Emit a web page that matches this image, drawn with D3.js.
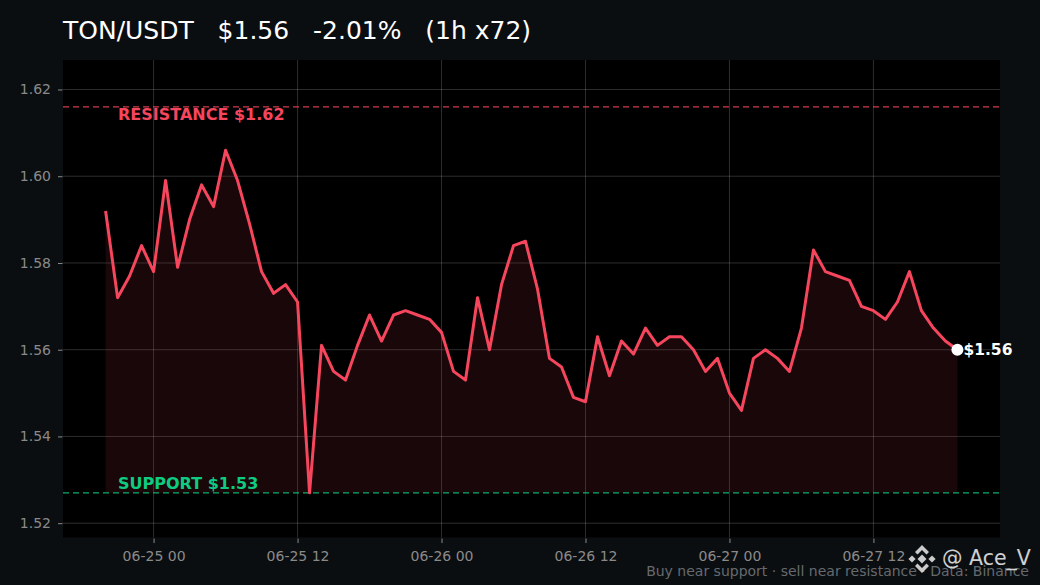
<!DOCTYPE html>
<html>
<head>
<meta charset="utf-8">
<script src="https://cdn.jsdelivr.net/npm/d3@7"></script>
<style>
  html, body { margin: 0; padding: 0; background: #0b0e11; }
  svg { display: block; }
  text { font-family: "DejaVu Sans", sans-serif; }
</style>
</head>
<body>
<svg id="chart" width="1040" height="585"></svg>
<script>
// ---- data ----
const startTime = "2024-06-24T20:00:00";
const prices = [
  1.592, 1.572, 1.577, 1.584, 1.578, 1.599, 1.579, 1.590, 1.598, 1.593,
  1.606, 1.599, 1.589, 1.578, 1.573, 1.575, 1.571, 1.527, 1.561, 1.555,
  1.553, 1.561, 1.568, 1.562, 1.568, 1.569, 1.568, 1.567, 1.564, 1.555,
  1.553, 1.572, 1.560, 1.575, 1.584, 1.585, 1.574, 1.558, 1.556, 1.549,
  1.548, 1.563, 1.554, 1.562, 1.559, 1.565, 1.561, 1.563, 1.563, 1.560,
  1.555, 1.558, 1.550, 1.546, 1.558, 1.560, 1.558, 1.555, 1.565, 1.583,
  1.578, 1.577, 1.576, 1.570, 1.569, 1.567, 1.571, 1.578, 1.569, 1.565,
  1.562, 1.560
];
const supportLevel = 1.527;
const resistanceLevel = 1.616;
const yTicks = [1.52, 1.54, 1.56, 1.58, 1.60, 1.62];
const xTickLabels = ["06-25 00", "06-25 12", "06-26 00", "06-26 12", "06-27 00", "06-27 12"];
const xTickTimes = ["2024-06-25T00:00:00", "2024-06-25T12:00:00", "2024-06-26T00:00:00",
                    "2024-06-26T12:00:00", "2024-06-27T00:00:00", "2024-06-27T12:00:00"];
const titleText = "TON/USDT   $1.56   -2.01%   (1h x72)";
const supportLabel = "SUPPORT $1.53";
const resistanceLabel = "RESISTANCE $1.62";
const lastLabel = "$1.56";
const footerText = "Buy near support · sell near resistance · Data: Binance";
const watermarkText = "@ Ace_V";

// ---- build ----
const HOUR = 3600 * 1000;
const t0 = new Date(startTime).getTime();
const data = prices.map((p, i) => ({ t: new Date(t0 + i * HOUR), v: p }));

const W = 1040, H = 585;
const m = { left: 63, top: 60, right: 1000, bottom: 537.5 };
const svg = d3.select("#chart");

svg.append("rect").attr("width", W).attr("height", H).attr("fill", "#0b0e11");
svg.append("rect").attr("x", m.left).attr("y", m.top)
  .attr("width", m.right - m.left).attr("height", m.bottom - m.top).attr("fill", "#000");

const tFirst = data[0].t.getTime(), tLast = data[data.length - 1].t.getTime();
const pad = 3.55 * HOUR;
const x = d3.scaleTime().domain([new Date(tFirst - pad), new Date(tLast + pad)]).range([m.left, m.right]);
const y = d3.scaleLinear().domain([1.5167, 1.6268]).range([m.bottom, m.top]);

const g = svg.append("g");

// grid
const xTickDates = xTickTimes.map(s => new Date(s));
g.selectAll(".gx").data(xTickDates).enter().append("line")
  .attr("x1", d => x(d)).attr("x2", d => x(d))
  .attr("y1", m.top).attr("y2", m.bottom)
  .attr("stroke", "#ffffff").attr("stroke-opacity", 0.2).attr("stroke-width", 0.9);
g.selectAll(".gy").data(yTicks).enter().append("line")
  .attr("x1", m.left).attr("x2", m.right)
  .attr("y1", d => y(d)).attr("y2", d => y(d))
  .attr("stroke", "#ffffff").attr("stroke-opacity", 0.2).attr("stroke-width", 0.9);

// axes
const yAxis = d3.axisLeft(y).tickValues(yTicks).tickFormat(d3.format(".2f")).tickSize(4.5).tickPadding(7);
const yg = svg.append("g").attr("transform", `translate(${m.left - 0.5},0)`).call(yAxis);
const xAxis = d3.axisBottom(x).tickValues(xTickDates).tickFormat((d, i) => xTickLabels[i]).tickSize(4.5).tickPadding(8);
const xg = svg.append("g").attr("transform", `translate(0,${m.bottom + 1})`).call(xAxis);
[yg, xg].forEach(a => {
  a.select(".domain").remove();
  a.selectAll(".tick line").attr("stroke", "#8a8a8a");
  a.selectAll(".tick text").attr("fill", "#8a8a8a").attr("font-size", 14)
    .attr("font-family", "DejaVu Sans, sans-serif");
});

// area
const area = d3.area().x(d => x(d.t)).y0(y(supportLevel)).y1(d => y(d.v));
g.append("path").datum(data).attr("d", area).attr("fill", "#f6465d").attr("fill-opacity", 0.1);

// support / resistance
g.append("line").attr("x1", m.left).attr("x2", m.right)
  .attr("y1", y(resistanceLevel)).attr("y2", y(resistanceLevel))
  .attr("stroke", "#f6465d").attr("stroke-width", 1.4).attr("stroke-dasharray", "6,4").attr("stroke-opacity", 0.85);
g.append("line").attr("x1", m.left).attr("x2", m.right)
  .attr("y1", y(supportLevel)).attr("y2", y(supportLevel))
  .attr("stroke", "#0ecb81").attr("stroke-width", 1.4).attr("stroke-dasharray", "6,4").attr("stroke-opacity", 0.85);

g.append("text").attr("x", 118).attr("y", y(resistanceLevel) + 13)
  .attr("fill", "#f6465d").attr("font-size", 16).attr("font-weight", "bold").text(resistanceLabel);
g.append("text").attr("x", 118).attr("y", y(supportLevel) - 4)
  .attr("fill", "#0ecb81").attr("font-size", 16).attr("font-weight", "bold").text(supportLabel);

// line
const line = d3.line().x(d => x(d.t)).y(d => y(d.v));
g.append("path").datum(data).attr("d", line).attr("fill", "none")
  .attr("stroke", "#f6465d").attr("stroke-width", 3).attr("stroke-linejoin", "round");

// last dot
const last = data[data.length - 1];
g.append("circle").attr("cx", x(last.t)).attr("cy", y(last.v)).attr("r", 6).attr("fill", "#ffffff");
g.append("text").attr("x", x(last.t) + 6).attr("y", y(last.v) + 5)
  .attr("fill", "#ffffff").attr("font-size", 15.5).attr("font-weight", "bold").text(lastLabel);

// title
svg.append("text").attr("x", 63).attr("y", 39).attr("fill", "#ffffff")
  .attr("font-size", 25).text(titleText).style("white-space", "pre").attr("xml:space", "preserve");

// footer
svg.append("text").attr("x", 1029).attr("y", 576).attr("text-anchor", "end")
  .attr("fill", "#666a6e").attr("font-size", 14).text(footerText);

// watermark: binance logo + handle
const logo = svg.append("g").attr("transform", "translate(922,559)").attr("fill", "#e0e0e0").attr("opacity", 0.9);
const s = 3.2;
logo.append("rect").attr("x", -s).attr("y", -s).attr("width", 2 * s).attr("height", 2 * s).attr("transform", "rotate(45)");
logo.append("rect").attr("x", -s * 0.8).attr("y", -s * 0.8).attr("width", 1.6 * s).attr("height", 1.6 * s)
  .attr("transform", "translate(-10,0) rotate(45)");
logo.append("rect").attr("x", -s * 0.8).attr("y", -s * 0.8).attr("width", 1.6 * s).attr("height", 1.6 * s)
  .attr("transform", "translate(10,0) rotate(45)");
logo.append("path").attr("d", "M0,-14 L7,-7 L4.5,-4.5 L0,-9 L-4.5,-4.5 L-7,-7 Z");
logo.append("path").attr("d", "M0,14 L7,7 L4.5,4.5 L0,9 L-4.5,4.5 L-7,7 Z");
svg.append("text").attr("x", 942).attr("y", 565).attr("fill", "#e6e6e6").attr("opacity", 0.9)
  .attr("font-size", 20.5).text(watermarkText);
</script>
</body>
</html>
